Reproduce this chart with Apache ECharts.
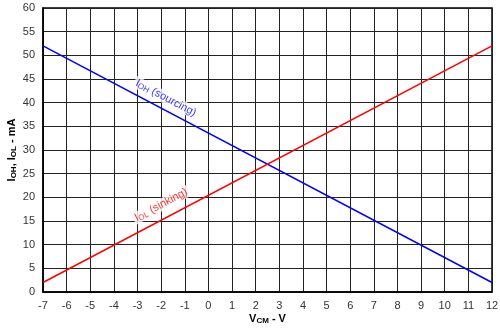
<!DOCTYPE html>
<html>
<head>
<meta charset="utf-8">
<script src="https://cdn.jsdelivr.net/npm/echarts@6/dist/echarts.min.js"></script>
<style>
  html, body { margin: 0; padding: 0; background: #fff; }
  #chart { width: 500px; height: 329px; }
</style>
</head>
<body>
<div id="chart"></div>
<script>
// common-mode voltage (V)
const vcm = [-7, 12];
// output current, mA
const iohSourcing = [52, 2];
const iolSinking = [2, 52];
// where the curve labels sit [V, mA]
const iohLabelAt = [-1.8, 41.0];
const iolLabelAt = [-2.0, 18.4];

const chart = echarts.init(document.getElementById("chart"));

const subRich = {
  b: { fontSize: 11, fontWeight: "bold", color: "#000", fontFamily: "Liberation Sans" },
  s: { fontSize: 8, fontWeight: "bold", color: "#000", fontFamily: "Liberation Sans", padding: [5, 0, 0, 0] },
};

function labelRich(color) {
  return {
    t: { fontSize: 11, color: color, fontFamily: "Liberation Sans" },
    s: { fontSize: 8, color: color, fontFamily: "Liberation Sans", padding: [4, 0, 0, 0] },
  };
}

const option = {
  animation: false,
  backgroundColor: "#fff",
  grid: {
    left: 43, right: 8, top: 8, bottom: 37,
    containLabel: false, outerBoundsMode: "none",
    show: true, borderColor: "#000", borderWidth: 1.5,
  },
  xAxis: {
    type: "value",
    min: -7,
    max: 12,
    interval: 1,
    name: "{b|V}{s|CM}{b| - V}",
    nameLocation: "middle",
    nameGap: 20,
    nameMoveOverlap: false,
    nameTextStyle: { rich: subRich },
    axisLine: { show: true, onZero: false, lineStyle: { color: "#000", width: 1.5 } },
    axisTick: { show: false },
    axisLabel: { color: "#333", fontSize: 11, fontFamily: "Liberation Sans", margin: 8 },
    splitLine: { show: true, lineStyle: { color: "#222", width: 1 } },
  },
  yAxis: {
    type: "value",
    min: 0,
    max: 60,
    interval: 5,
    name: "{b|I}{s|OH}{b|, I}{s|OL}{b| - mA}",
    nameLocation: "middle",
    nameRotate: 90,
    nameGap: 25,
    nameMoveOverlap: false,
    nameTextStyle: { rich: subRich },
    axisLine: { show: true, onZero: false, lineStyle: { color: "#000", width: 1.5 } },
    axisTick: { show: false },
    axisLabel: { color: "#333", fontSize: 11, fontFamily: "Liberation Sans", margin: 8 },
    splitLine: { show: true, lineStyle: { color: "#222", width: 1 } },
  },
  series: [
    {
      type: "line",
      data: vcm.map((v, i) => [v, iohSourcing[i]]),
      symbol: "none",
      lineStyle: { color: "#0000ff", width: 1.5 },
      z: 3,
    },
    {
      type: "line",
      data: vcm.map((v, i) => [v, iolSinking[i]]),
      symbol: "none",
      lineStyle: { color: "#ff0000", width: 1.5 },
      z: 3,
    },
    {
      type: "scatter",
      symbolSize: 0,
      z: 4,
      data: [
        {
          value: iohLabelAt,
          label: {
            show: true,
            position: "inside",
            rotate: -28,
            formatter: "{t|I}{s|OH}{t| (sourcing)}",
            backgroundColor: "#fff",
            padding: [0, 2],
            rich: labelRich("#0000ff"),
          },
        },
        {
          value: iolLabelAt,
          label: {
            show: true,
            position: "inside",
            rotate: 28,
            formatter: "{t|I}{s|OL}{t| (sinking)}",
            backgroundColor: "#fff",
            padding: [0, 2],
            rich: labelRich("#ff0000"),
          },
        },
      ],
    },
  ],
};

chart.setOption(option);
</script>
</body>
</html>
